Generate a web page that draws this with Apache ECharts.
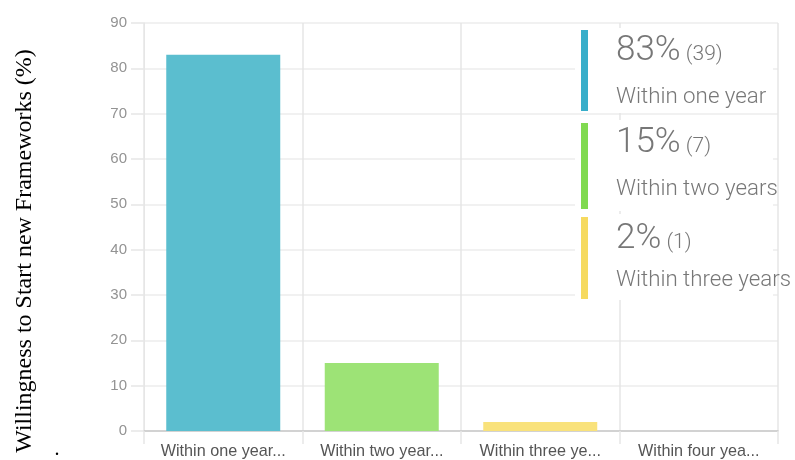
<!DOCTYPE html>
<html><head><meta charset="utf-8">
<script src="https://cdn.jsdelivr.net/npm/echarts@6/dist/echarts.min.js"></script>
<style>html,body{margin:0;padding:0;background:#fff}#c{width:795px;height:460px}</style>
</head><body><div id="c"></div>
<script>
const categories = ["Within one year...", "Within two year...", "Within three ye...", "Within four yea..."];
const values = [83, 15, 2, 0];
const counts = [39, 7, 1, 0];
const legendNames = ["Within one year", "Within two years", "Within three years"];
const barColors = ["#5BBECF", "#9DE376", "#F9E27B", "#cccccc"];
const stripeColors = ["#38AECA", "#80DA50", "#F6DA5F"];
const yTitle = "Willingness to Start new Frameworks (%)";

const chart = echarts.init(document.getElementById('c'), null, {renderer:'canvas'});
const graphics = [
  {type:'text', position:[25,251], rotation:Math.PI/2, style:{text:yTitle, font:'24px "Liberation Serif"', fill:'#000', textAlign:'center', textVerticalAlign:'middle'}, z:10},
  {type:'text', position:[57,450], style:{text:'.', font:'20px "Liberation Serif"', fill:'#000', textAlign:'center', textVerticalAlign:'middle'}, z:10}
];
const boxTop = [28, 120, 214];
const boxH = [85, 91, 86];
const stripeTop = [30, 123, 217];
const stripeH = [81, 86, 82];
const bigY = [51, 143, 239];
const subY = [97, 189, 280];
for (let i=0;i<legendNames.length;i++){
  graphics.push({type:'rect', shape:{x:575, y:boxTop[i], width:198, height:boxH[i]}, style:{fill:'#fff'}, z:10});
  graphics.push({type:'rect', shape:{x:581, y:stripeTop[i], width:7, height:stripeH[i]}, style:{fill:stripeColors[i]}, z:11});
  graphics.push({type:'text', position:[616, bigY[i]], style:{rich:{
      a:{fontFamily:'Roboto', fontWeight:300, fontSize:35, fill:'#777777', verticalAlign:'bottom'},
      b:{fontFamily:'Roboto', fontWeight:300, fontSize:21, fill:'#777777', verticalAlign:'bottom', padding:[0,0,3,0]}},
      text:'{a|'+values[i]+'%}{b| ('+counts[i]+')}', textVerticalAlign:'middle'}, z:11});
  graphics.push({type:'text', position:[616, subY[i]], style:{text:legendNames[i], fontFamily:'Roboto', fontWeight:300, fontSize:22.3, fill:'#777777', textVerticalAlign:'middle'}, z:11});
}

chart.setOption({
  animation:false,
  grid:{left:144, right:17, top:23, bottom:28, containLabel:false},
  xAxis:{type:'category', data:categories,
    axisLine:{lineStyle:{color:'#c8c8c8', width:1.5}},
    axisTick:{show:true, length:13, lineStyle:{color:'#e6e6e6', width:1.5}},
    splitLine:{show:true, lineStyle:{color:'#e6e6e6', width:1.5}},
    axisLabel:{fontFamily:'Liberation Sans', fontSize:16.2, color:'#555', margin:13, interval:0}},
  yAxis:{type:'value', min:0, max:90, interval:10,
    axisLine:{show:true, lineStyle:{color:'#e6e6e6'}},
    axisTick:{show:true, length:13, lineStyle:{color:'#e6e6e6', width:1.5}},
    splitLine:{lineStyle:{color:'#ececec', width:1.5}},
    axisLabel:{fontFamily:'Liberation Sans', fontSize:15, color:'#939393', margin:17}},
  series:[{type:'bar', data:values.map((v,i)=>({value:v, itemStyle:{color:barColors[i]}})), barWidth:114}],
  graphic:graphics
});
</script></body></html>
